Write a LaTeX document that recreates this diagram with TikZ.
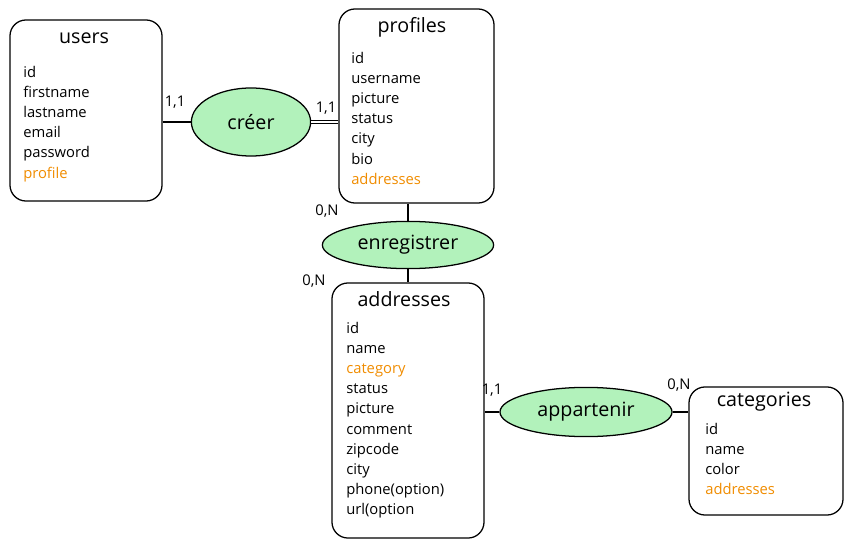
\documentclass[tikz,border=0pt]{standalone}
\usepackage{fontspec}
\setmainfont{Open Sans}
\usetikzlibrary{shapes.geometric}
\definecolor{fkorange}{HTML}{F08C00}
\definecolor{assocgreen}{HTML}{B2F2BB}
\tikzset{
  entity/.style={draw, line width=0.9pt, rounded corners=0.4cm, inner sep=0pt},
  assoc/.style={draw, ellipse, fill=assocgreen, line width=0.9pt, inner sep=0pt, font=\fontsize{14}{16}\selectfont},
  title/.style={font=\fontsize{14}{16}\selectfont},
  attrs/.style={anchor=north west, align=left, inner sep=0pt, font=\fontsize{10.5}{14.3}\selectfont},
  card/.style={font=\fontsize{10.5}{12}\selectfont},
  link/.style={line width=0.9pt}
}
\begin{document}
\begin{tikzpicture}[x=0.025cm,y=-0.025cm]
    \useasboundingbox (0,0) rectangle (854,550);

% entities
\node[entity, minimum width=3.8cm, minimum height=4.525cm] (users) at (86,110.5) {};
\node[title] (userst) at (84,38) {users};
\node[attrs] (usersa) at (23,66) {id\\firstname\\lastname\\email\\password\\\textcolor{fkorange}{profile}};

\node[entity, minimum width=3.875cm, minimum height=4.85cm] (profiles) at (416.5,106) {};
\node[title] (profilest) at (412,27) {profiles};
\node[attrs] (profilesa) at (351,52) {id\\username\\picture\\status\\city\\bio\\\textcolor{fkorange}{addresses}};

\node[entity, minimum width=3.8cm, minimum height=6.375cm] (addresses) at (408,410.5) {};
\node[title] (addressest) at (404,299) {addresses};
\node[attrs] (addressesa) at (346,322) {id\\name\\\textcolor{fkorange}{category}\\status\\picture\\comment\\zipcode\\city\\phone(option)\\url(option};

\node[entity, minimum width=3.85cm, minimum height=3.2cm] (categories) at (766,451) {};
\node[title] (categoriest) at (764,402) {categories};
\node[attrs] (categoriesa) at (705,423) {id\\name\\color\\\textcolor{fkorange}{addresses}};

% associations
\node[assoc, minimum width=2.98cm, minimum height=1.7cm] (creer) at (251,122) {créer};
\node[assoc, minimum width=4.28cm, minimum height=1.18cm] (enreg) at (408,245) {enregistrer};
\node[assoc, minimum width=4.3cm, minimum height=1.23cm] (appart) at (586,412) {appartenir};

% links
\draw[link] (creer.west) -- (creer.west -| users.east);
\draw[link, double, double distance=1.5pt] (creer.east) -- (creer.east -| profiles.west);
\draw[link] (enreg.north) -- (enreg.north |- profiles.south);
\draw[link] (enreg.south) -- (enreg.south |- addresses.north);
\draw[link] (appart.west) -- (appart.west -| addresses.east);
\draw[link] (appart.east) -- (appart.east -| categories.west);

% cardinalities
\node[card] (c1) at (175,102) {1,1};
\node[card] (c2) at (326,108) {1,1};
\node[card] (c3) at (327,211) {0,N};
\node[card] (c4) at (314,281) {0,N};
\node[card] (c5) at (492,390) {1,1};
\node[card] (c6) at (679,385) {0,N};

\end{tikzpicture}
\end{document}
